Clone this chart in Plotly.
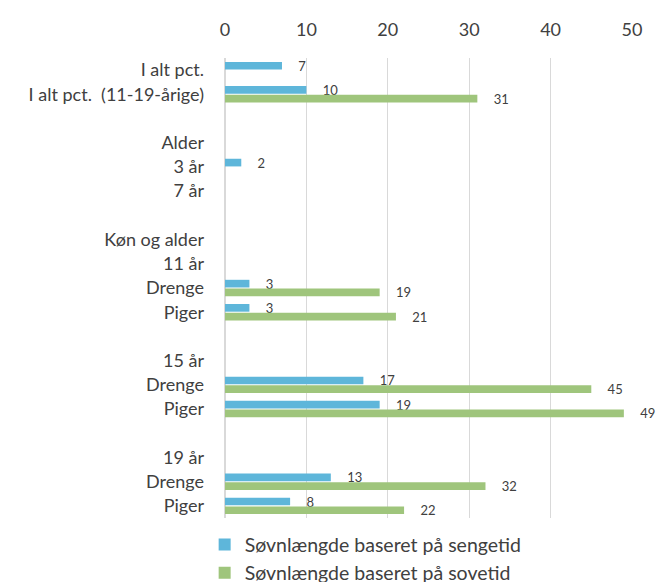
import plotly.graph_objects as go

categories = ["I alt pct.", "I alt pct.\u00a0 (11-19-årige)", "", "Alder", "3 år", "7 år", "",
              "Køn og alder", "11 år", "Drenge", "Piger", "", "15 år", "Drenge", "Piger", "",
              "19 år", "Drenge", "Piger"]
sengetid = [7, 10, None, None, 2, None, None, None, None, 3, 3, None, None, 17, 19, None, None, 13, 8]
sovetid = [None, 31, None, None, None, None, None, None, None, 19, 21, None, None, 45, 49, None, None, 32, 22]
series_names = ["Søvnlængde baseret på sengetid", "Søvnlængde baseret på sovetid"]
x_ticks = [0, 10, 20, 30, 40, 50]

positions = list(range(len(categories)))
FONT = "Lato, 'Open Sans', sans-serif"
TXT = "#404040"

fig = go.Figure()
for name, vals, col in [(series_names[0], sengetid, "#5eb6da"), (series_names[1], sovetid, "#9fc57c")]:
    fig.add_trace(go.Bar(
        y=positions, x=vals, orientation="h", name=name,
        marker=dict(color=col, line=dict(width=0)),
        text=[("\u00a0\u00a0\u00a0\u00a0" + str(v)) if v is not None else "" for v in vals],
        textposition="outside", cliponaxis=False, constraintext="none",
        textfont=dict(size=13, color=TXT, family=FONT),
    ))

fig.update_layout(
    width=659, height=582,
    margin=dict(l=225, r=27, t=58, b=64, autoexpand=False),
    barmode="group", bargap=0.28, bargroupgap=0.12,
    plot_bgcolor="white", paper_bgcolor="white",
    font=dict(family=FONT, color=TXT, size=18),
    xaxis=dict(side="top", range=[0, 50], tickvals=x_ticks, showgrid=True, automargin=False,
               gridcolor="#d9d9d9", gridwidth=1, zeroline=True, zerolinecolor="#d9d9d9",
               showline=False, ticks="", ticklabelstandoff=17, tickfont=dict(size=18, color=TXT)),
    yaxis=dict(tickvals=positions, ticktext=categories, range=[len(categories) - 0.5, -0.5],
               showgrid=False, zeroline=False, showline=False, ticks="", automargin=False,
               ticklabelstandoff=20, tickfont=dict(size=18, color=TXT)),
    legend=dict(orientation="v", x=-0.05, xanchor="left", y=-0.0157, yanchor="top",
                font=dict(size=19.5, color=TXT), traceorder="normal", itemwidth=30,
                tracegroupgap=0),
    showlegend=True,
)

fig.write_html("out.html", post_script="document.body.style.margin='0';",
               config={"displayModeBar": False})
